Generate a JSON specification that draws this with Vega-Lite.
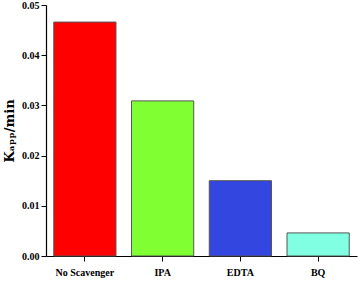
{
  "$schema": "https://vega.github.io/schema/vega-lite/v6.json",
  "width": 311,
  "height": 251,
  "autosize": {"type": "none"},
  "padding": {"left": 46, "top": 5, "right": 3, "bottom": 27},
  "background": "white",
  "data": {"values": [
    {"scavenger": "No Scavenger", "k": 0.0466},
    {"scavenger": "IPA", "k": 0.0309},
    {"scavenger": "EDTA", "k": 0.0150},
    {"scavenger": "BQ", "k": 0.0046}
  ]},
  "config": {"view": {"stroke": null}},
  "mark": {"type": "bar", "stroke": "#555555", "strokeWidth": 1},
  "encoding": {
    "x": {
      "field": "scavenger", "type": "nominal", "sort": null,
      "scale": {"paddingInner": 0.2, "paddingOuter": 0.1},
      "axis": {
        "title": null, "labelAngle": 0, "labelFont": "Liberation Serif", "labelFontWeight": "bold",
        "labelFontSize": 10, "labelColor": "black", "domainColor": "black", "tickColor": "black",
        "tickSize": 5, "labelPadding": 6, "domainWidth": 1.2
      }
    },
    "y": {
      "field": "k", "type": "quantitative",
      "scale": {"domain": [0, 0.05], "nice": false},
      "axis": {
        "title": "Kₐₚₚ/min", "titleFont": "DejaVu Serif", "titleFontWeight": "bold", "titleFontSize": 13,
        "titleColor": "black", "titlePadding": 5,
        "values": [0, 0.01, 0.02, 0.03, 0.04, 0.05], "format": ".2f", "grid": false,
        "labelFont": "Liberation Serif", "labelFontWeight": "bold", "labelFontSize": 10, "labelColor": "black",
        "domainColor": "black", "tickColor": "black", "tickSize": 5, "domainWidth": 1.2
      }
    },
    "color": {
      "field": "scavenger", "type": "nominal", "sort": null, "legend": null,
      "scale": {"domain": ["No Scavenger", "IPA", "EDTA", "BQ"], "range": ["#FF0000", "#80FF33", "#3347E0", "#80FFE2"]}
    }
  }
}
